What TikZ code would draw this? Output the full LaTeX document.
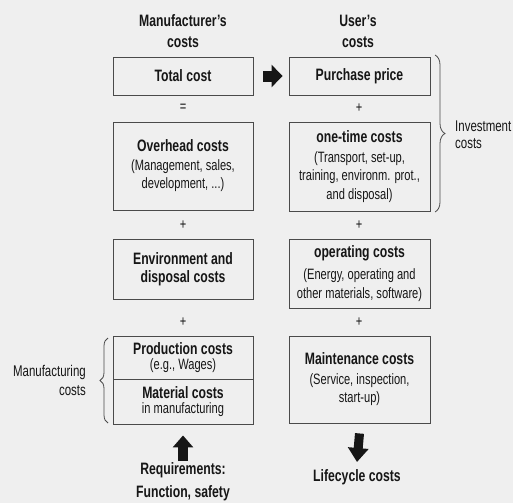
\documentclass[tikz,border=0pt]{standalone}
\usepackage{fontspec}
\setmainfont{Liberation Sans}[FakeStretch=0.74]
\usetikzlibrary{arrows.meta,decorations.pathreplacing}
\definecolor{bgc}{HTML}{EFEFEF}
\definecolor{ink}{HTML}{161616}
\definecolor{edge}{HTML}{4A4A4A}
\tikzset{
  costbox/.style={draw=edge, line width=0.9pt, text=ink, align=center, inner sep=0pt,
    font=\fontsize{15}{18.5}\selectfont},
  lbox/.style={costbox, minimum width=140pt},
  rbox/.style={costbox, minimum width=141pt},
  lbl/.style={text=ink, inner sep=0pt, font=\fontsize{15.5}{18.5}\selectfont},
  hd/.style={text=ink, align=center, inner sep=0pt, font=\bfseries\fontsize{16.5}{21}\selectfont},
  sym/.style={text=ink, inner sep=0pt, font=\fontsize{15}{16}\selectfont},
  blockarrow/.style={draw=ink, line width=#1},
  bracepath/.style={draw=edge, line width=0.8pt, decorate},
}
\newcommand{\ttl}[1]{{\bfseries\fontsize{16.5}{18.5}\selectfont #1}}
\begin{document}
\begin{tikzpicture}[x=1pt,y=-1pt]
\fill[bgc] (0,0) rectangle (513,503);
\useasboundingbox (0,0) rectangle (513,503);

% headings
\node[hd] (mhead) at (183,31) {Manufacturer's\\costs};
\node[hd] (uhead) at (358,31) {User's\\costs};

% left column
\node[lbox, minimum height=38pt] (total) at (183,76) {\ttl{Total cost}};
\node[sym] (eq) at (183,108) {=};
\node[lbox, minimum height=88pt] (overhead) at (183,166) {\ttl{Overhead costs}\\(Management, sales,\\development, ...)};
\node[sym] (p1) at (183,225) {+};
\node[lbox, minimum height=60pt] (env) at (183,269) {\ttl{Environment and}\\\ttl{disposal costs}};
\node[sym] (p2) at (183,322) {+};
\node[lbox, minimum height=43pt] (prod) at (183,357.5) {\ttl{Production costs}\\[-3pt](e.g., Wages)};
\node[lbox, minimum height=45pt] (mat) at (183,401.5) {\ttl{Material costs}\\[-3pt]in manufacturing};

% right column
\node[rbox, minimum height=38pt] (purchase) at (359.5,76) {\ttl{Purchase price}};
\node[sym] (p3) at (359,108) {+};
\node[rbox, minimum height=89pt] (onetime) at (359.5,166.5) {\ttl{one-time costs}\\[1pt](Transport, set-up,\\training, environm. prot.,\\and disposal)};
\node[sym] (p4) at (359,225) {+};
\node[rbox, minimum height=69pt] (operating) at (359.5,273.5) {\ttl{operating costs}\\[4pt](Energy, operating and\\other materials, software)};
\node[sym] (p5) at (359,322) {+};
\node[rbox, minimum height=87pt] (maint) at (359.5,379.5) {\ttl{Maintenance costs}\\[1pt](Service, inspection,\\start-up)};

% bottom labels
\node[hd, font=\bfseries\fontsize{16.5}{23}\selectfont] (req) at (183,482) {Requirements:\\Function, safety};
\node[hd] (life) at (357,477) {Lifecycle costs};
\coordinate (reqtop) at (183,461);
\coordinate (lifetop) at (357,462);

% side labels
\node[lbl, align=right, anchor=east] (manuf) at (86,380.5) {Manufacturing\\costs};
\node[lbl, align=left, anchor=west, font=\fontsize{15.5}{17}\selectfont] (invest) at (455,135) {Investment\\costs};

% braces
\coordinate (rbt) at (435,55);
\coordinate (rbb) at (435,212);
\draw[bracepath, decoration={brace, amplitude=10pt}] (rbt) -- (rbb);
\coordinate (lbt) at (108,338);
\coordinate (lbb) at (108,423);
\draw[bracepath, decoration={brace, amplitude=8pt}] (lbb) -- (lbt);

% block arrows
\draw[blockarrow=11pt, -{Triangle[length=11pt,width=22pt]}]
  ([xshift=10pt]total.east) -- ([xshift=-6pt]purchase.west);
\draw[blockarrow=10pt, -{Triangle[length=12pt,width=20pt]}]
  (reqtop) -- ([yshift=-11pt]mat.south);
\draw[blockarrow=9pt, -{Triangle[length=14pt,width=20pt]}]
  ([yshift=-10pt]maint.south) -- (lifetop);
\end{tikzpicture}
\end{document}
